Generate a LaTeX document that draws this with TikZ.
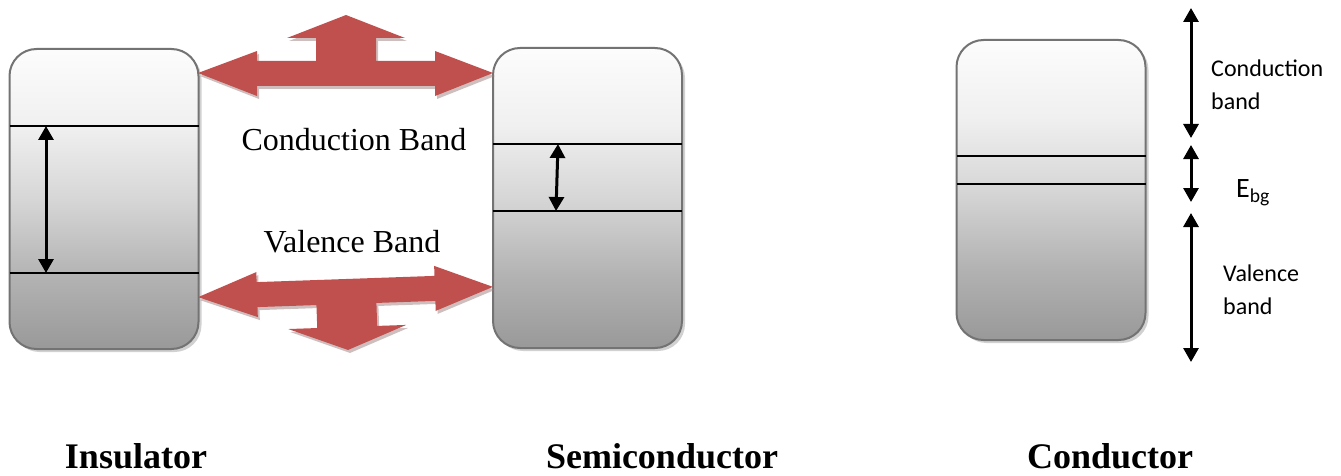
\documentclass[tikz,border=0pt]{standalone}
\usepackage{fontspec}
\setmainfont{Liberation Serif}
\newfontfamily\calibri{Carlito}
\usetikzlibrary{arrows.meta, shadows, positioning}

\definecolor{arrowred}{HTML}{C0504D}
\pgfdeclareverticalshading{bandfill}{100bp}{color(0bp)=(black!40); color(25bp)=(black!40); color(37bp)=(black!30); color(50bp)=(black!16); color(62bp)=(black!6); color(75bp)=(black!1); color(100bp)=(black!1)}

\begin{document}
\begin{tikzpicture}[
    x=1pt, y=-1pt,
    band/.style    ={rectangle, draw=black!55, line width=2pt, rounded corners=27pt, shade, shading=bandfill, outer sep=0pt, minimum width=189pt, minimum height=300pt, drop shadow={shadow xshift=3pt, shadow yshift=-3pt, fill=black!30, opacity=0.6}},
    level/.style   ={line width=2pt},
    gap/.style     ={{Triangle[length=14pt,width=15pt]}-{Triangle[length=14pt,width=15pt]}, line width=3pt},
    flow/.style    ={fill=arrowred, drop shadow={shadow xshift=2pt, shadow yshift=-3pt, fill=arrowred!50!black!60, opacity=0.5}},
    bandname/.style={font=\fontsize{32}{36}\selectfont, inner sep=0pt},
    material/.style={font=\fontsize{36}{40}\selectfont\bfseries, inner sep=0pt},
    note/.style    ={font=\calibri\fontsize{24}{33}\selectfont, align=left, inner sep=0pt},
    ]
    \useasboundingbox (0,0) rectangle (1341,476);

    % --- Band boxes ---
    \node[band] (ins)  at (104,199)   {};
    \node[band] (semi) at (587.5,198) {};
    \node[band] (cond) at (1051,190)  {};

    % --- Band edges ---
    \draw[level] (ins.west |- 0,126) -- (ins.east |- 0,126);
    \draw[level] (ins.west |- 0,273) -- (ins.east |- 0,273);
    \draw[level] (semi.west |- 0,144) -- (semi.east |- 0,144);
    \draw[level] (semi.west |- 0,211) -- (semi.east |- 0,211);
    \draw[level] (cond.west |- 0,156) -- (cond.east |- 0,156);
    \draw[level] (cond.west |- 0,184) -- (cond.east |- 0,184);

    % --- Gaps ---
    \coordinate (ins_top)  at (46,126);
    \coordinate (ins_bot)  at (46,273);
    \coordinate (semi_top) at (558,144);
    \coordinate (semi_bot) at (556,211);
    \draw[gap] (ins_top) -- (ins_bot);
    \draw[gap] (semi_top) -- (semi_bot);

    % --- Conductor scale ---
    \coordinate (cb_top) at (1191,8);
    \coordinate (cb_bot) at (1191,138);
    \coordinate (eg_top) at (1191,145);
    \coordinate (eg_bot) at (1191,202);
    \coordinate (vb_top) at (1191,213);
    \coordinate (vb_bot) at (1191,362);
    \draw[gap] (cb_top) -- (cb_bot);
    \draw[gap] (eg_top) -- (eg_bot);
    \draw[gap] (vb_top) -- (vb_bot);

    % --- Red arrows ---
    \fill[flow, shift={(346,73)}]
        (-148,0) -- (-89,-22) -- (-89,-12) -- (-30,-12) -- (-30,-35) -- (-59,-35) -- (0,-58)
        -- (59,-35) -- (30,-35) -- (30,-12) -- (89,-12) -- (89,-22) -- (147,0)
        -- (89,23) -- (89,13) -- (-89,13) -- (-89,23) -- cycle;
    \fill[flow, shift={(346,292)}, rotate=2, yscale=-1]
        (-148,0) -- (-89,-22) -- (-89,-12) -- (-30,-12) -- (-30,-35) -- (-59,-35) -- (0,-58)
        -- (59,-35) -- (30,-35) -- (30,-12) -- (89,-12) -- (89,-22) -- (147,0)
        -- (89,23) -- (89,13) -- (-89,13) -- (-89,23) -- cycle;

    % --- Labels ---
    \node[bandname, anchor=base] (cb_name) at (354,150) {Conduction Band};
    \node[bandname, anchor=base] (vb_name) at (352,252) {Valence Band};

    \node[note, anchor=north west] (cb_note) at (1211,60) {Conduction\\band};
    \node[note, anchor=base west, font=\calibri\fontsize{28}{33}\selectfont] (eg_note) at (1236,197) {E\textsubscript{bg}};
    \node[note, anchor=north west] (vb_note) at (1223,265) {Valence\\band};

    \node[material, anchor=base] (ins_name)  at (136,468)  {Insulator};
    \node[material, anchor=base] (semi_name) at (662,468)  {Semiconductor};
    \node[material, anchor=base] (cond_name) at (1110,468) {Conductor};

\end{tikzpicture}
\end{document}
